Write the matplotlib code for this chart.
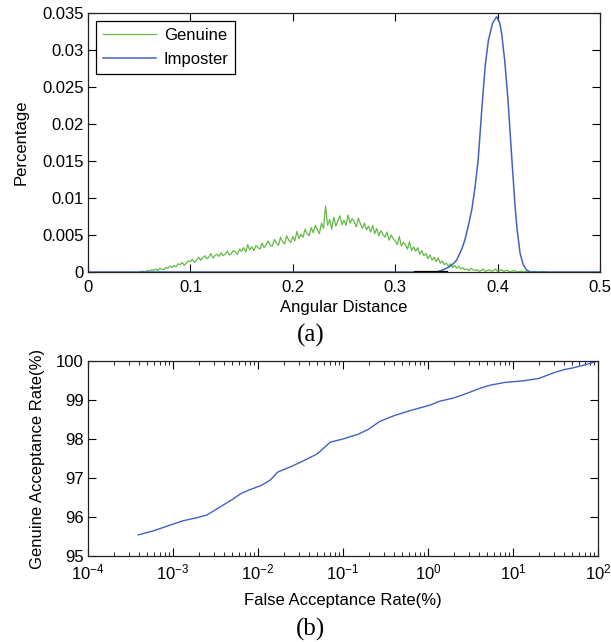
import matplotlib
matplotlib.use("Agg")
import matplotlib.pyplot as plt
import numpy as np
from matplotlib.ticker import FixedLocator, NullFormatter

plt.rcParams['font.family'] = ['Liberation Sans', 'DejaVu Sans']
plt.rcParams['mathtext.fontset'] = 'custom'
plt.rcParams['mathtext.rm'] = 'Liberation Sans'
plt.rcParams['mathtext.it'] = 'Liberation Sans:italic'
plt.rcParams['mathtext.bf'] = 'Liberation Sans:bold'

# (a) genuine histogram, bins of 0.002 starting at 0.05 (values in 1e-4)
gen_x = np.round(np.arange(0.05, 0.45, 0.002), 3)
gen_y = np.array([
    0, 1, 1, 0, 2,
    1, 3, 2, 4, 2,
    5, 4, 3, 6, 5,
    8, 6, 9, 7, 11,
    10, 13, 9, 12, 15,
    14, 17, 13, 16, 20,
    16, 19, 22, 18, 20,
    25, 19, 22, 24, 21,
    26, 22, 24, 28, 23,
    25, 29, 27, 24, 31,
    28, 33, 27, 37, 30,
    34, 29, 36, 33, 31,
    39, 33, 37, 42, 36,
    35, 44, 39, 36, 47,
    41, 38, 49, 43, 40,
    48, 42, 55, 45, 51,
    47, 58, 52, 49, 60,
    53, 63, 57, 52, 66,
    59, 89, 63, 71, 58,
    74, 62, 69, 76, 64,
    70, 63, 77, 66, 72,
    68, 61, 73, 65, 59,
    66, 57, 62, 54, 63,
    52, 59, 49, 56, 51,
    47, 54, 43, 50, 45,
    42, 37, 48, 35, 40,
    37, 31, 41, 29, 34,
    28, 33, 24, 29, 22,
    25, 18, 23, 16, 20,
    14, 19, 12, 15, 10,
    12, 8, 11, 6, 9,
    5, 8, 4, 6, 3,
    4, 2, 5, 3, 2,
    3, 1, 2, 4, 1,
    2, 3, 1, 2, 4,
    1, 2, 3, 1, 2,
    2, 0, 1, 2, 1,
    0, 1, 1, 0, 1,
    1, 0, 0, 1, 0,
    0, 0, 1, 0, 0,
]) * 1e-4

# (a) imposter distribution
imp_x = [0.0, 0.34, 0.345, 0.35, 0.355, 0.36, 0.365, 0.368, 0.372, 0.375, 0.378, 0.381,
         0.385, 0.388, 0.391, 0.395, 0.399, 0.402, 0.404, 0.407, 0.41, 0.414, 0.417,
         0.419, 0.422, 0.425, 0.428, 0.432, 0.5]
imp_y = [0, 0, 0.0002, 0.0005, 0.0009, 0.0016, 0.0031, 0.0043, 0.0066, 0.0086, 0.0115, 0.0151,
         0.0228, 0.0280, 0.0313, 0.0336, 0.0345, 0.0337, 0.0322, 0.0285, 0.0235, 0.0151, 0.0090,
         0.0058, 0.0025, 0.0010, 0.0003, 0, 0]

# short black segment on the baseline
blk_x = [0.319, 0.351]
blk_y = [0, 0]

# (b) ROC curve
far = [3.9e-4, 6e-4, 9.5e-4, 1.3e-3, 1.9e-3, 2.5e-3, 3.6e-3, 5e-3, 6.3e-3, 8e-3, 0.011,
       0.014, 0.017, 0.025, 0.035, 0.05, 0.071, 0.1, 0.15, 0.2, 0.27, 0.4, 0.6, 1.06,
       1.38, 2.0, 2.7, 4.1, 5.4, 8.0, 13.0, 20.0, 29.5, 40.0, 50.0, 70.0, 100.0]
gar = [95.54, 95.65, 95.8, 95.9, 95.98, 96.05, 96.26, 96.45, 96.6, 96.7, 96.81,
       96.95, 97.15, 97.3, 97.45, 97.62, 97.92, 98.0, 98.12, 98.25, 98.45, 98.6, 98.72, 98.87,
       98.97, 99.05, 99.15, 99.3, 99.38, 99.45, 99.49, 99.55, 99.69, 99.78, 99.82, 99.9, 100.0]
far_ticks = [1e-4, 1e-3, 1e-2, 1e-1, 1e0, 1e1, 1e2]
far_labels = ['$10^{-4}$', '$10^{-3}$', '$10^{-2}$', '$10^{-1}$', '$10^{0}$', '$10^{1}$', '$10^{2}$']

green = '#62bb45'
blue = '#4262c0'
fs = 12

fig = plt.figure(figsize=(6.11, 6.42), dpi=100)

ax1 = fig.add_axes([0.144, 0.5763, 0.838, 0.4034])
ax1.plot(gen_x, gen_y, color=green, lw=0.9, label='Genuine')
ax1.plot(imp_x, imp_y, color=blue, lw=1.1, label='Imposter')
ax1.plot(blk_x, blk_y, color='black', lw=1.6)
ax1.set_xlim(0, 0.5)
ax1.set_ylim(0, 0.035)
ax1.set_xticks([0, 0.1, 0.2, 0.3, 0.4, 0.5])
ax1.set_xticklabels(['0', '0.1', '0.2', '0.3', '0.4', '0.5'])
ax1.set_yticks([0, 0.005, 0.01, 0.015, 0.02, 0.025, 0.03, 0.035])
ax1.set_yticklabels(['0', '0.005', '0.01', '0.015', '0.02', '0.025', '0.03', '0.035'])
ax1.tick_params(direction='in', top=True, right=True, length=6, labelsize=fs, pad=6)
ax1.tick_params(axis='y', pad=3)
ax1.set_xlabel('Angular Distance', fontsize=fs, labelpad=3)
ax1.set_ylabel('Percentage', fontsize=fs, labelpad=10)
leg = ax1.legend(loc='upper left', fontsize=fs, fancybox=False, edgecolor='black',
                 framealpha=1, handlelength=3.2, borderaxespad=0.5, labelspacing=0.55,
                 borderpad=0.4, handletextpad=0.45)
leg.get_frame().set_linewidth(0.9)

ax2 = fig.add_axes([0.144, 0.134, 0.8347, 0.3037])
ax2.semilogx(far, gar, color=blue, lw=1.0)
ax2.set_xlim(1e-4, 1e2)
ax2.set_ylim(95, 100)
ax2.set_yticks([95, 96, 97, 98, 99, 100])
ax2.set_xticks(far_ticks)
ax2.set_xticklabels(far_labels)
minor = [m * 10.0 ** e for e in range(-4, 2) for m in range(2, 10)]
ax2.xaxis.set_minor_locator(FixedLocator(minor))
ax2.xaxis.set_minor_formatter(NullFormatter())
ax2.tick_params(which='both', direction='in', top=True, right=True, labelsize=fs)
ax2.tick_params(which='major', length=6)
ax2.tick_params(which='minor', length=3)
ax2.tick_params(axis='x', which='major', pad=5)
ax2.tick_params(axis='y', pad=3)
ax2.set_xlabel('False Acceptance Rate(%)', fontsize=fs, labelpad=7)
ax2.set_ylabel('Genuine Acceptance Rate(%)', fontsize=fs, labelpad=8)

for ax in (ax1, ax2):
    for s in ax.spines.values():
        s.set_linewidth(0.9)
        s.set_color('#222222')

fig.text(0.508, 0.478, '(a)', ha='center', va='center', family='Liberation Serif', fontsize=18)
fig.text(0.508, 0.019, '(b)', ha='center', va='center', family='Liberation Serif', fontsize=18)

fig.savefig('out.png', dpi=100)
